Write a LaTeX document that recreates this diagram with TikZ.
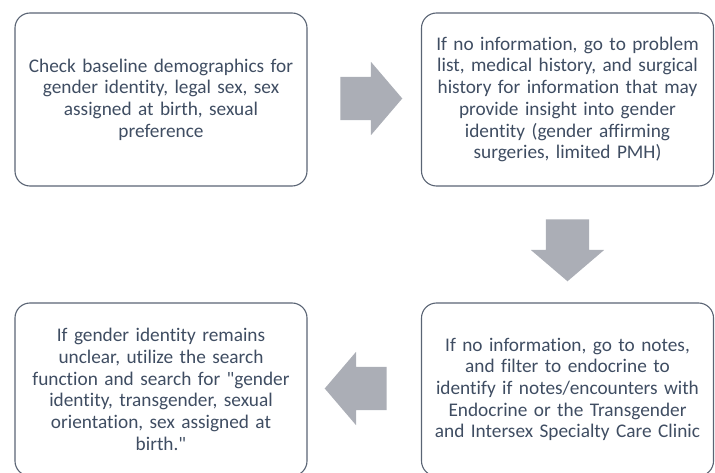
\documentclass[tikz,border=0pt]{standalone}
\usepackage{fontspec}
\setmainfont{Carlito}[Ligatures={NoCommon,TeXOff}]
\usetikzlibrary{shapes.arrows}

\definecolor{boxline}{HTML}{5A6474}
\definecolor{boxtext}{HTML}{3F4D62}
\definecolor{arrowgray}{HTML}{ABAEB6}

\tikzset{
  stepbox/.style={draw=boxline, line width=1.1pt, rounded corners=15pt,
    minimum width=292pt, minimum height=173pt, text width=288pt,
    align=center, text=boxtext, inner sep=0pt,
    font=\fontsize{19.3}{21.7}\selectfont},
  blockarrow/.style={single arrow, fill=arrowgray, draw=none,
    minimum height=62pt, minimum width=73pt, inner xsep=0pt,
    inner ysep=21.5pt, single arrow head extend=15pt,
    single arrow tip angle=99, single arrow head indent=0pt}
}

\begin{document}
\begin{tikzpicture}[x=1pt,y=-1pt]
\clip (0,0) rectangle (715,473);
\useasboundingbox (0,0) rectangle (715,473);

% the four steps
\node[stepbox] (demo) at (161,99.5) {Check baseline demographics for\\
  gender identity, legal sex, sex\\ assigned at birth, sexual\\ preference};
\node[stepbox] (hist) at (567.5,99.5) {If no information, go to problem\\
  list, medical history, and surgical\\ history for information that may\\
  provide insight into gender\\ identity (gender affirming\\
  surgeries, limited PMH)};
\node[stepbox] (notes) at (567.5,389.5) {If no information, go to notes,\\
  and filter to endocrine to\\ identify if notes/encounters with\\
  Endocrine or the Transgender\\ and Intersex Specialty Care Clinic};
\node[stepbox] (search) at (161,389.5) {If gender identity remains\\
  unclear, utilize the search\\ function and search for "gender\\
  identity, transgender, sexual\\ orientation, sex assigned at\\ birth."};

% arrows between the steps
\node[blockarrow] (ab) at (362,98.5) {};
\node[blockarrow, rotate=-90] (bc) at (567.5,241) {};
\node[blockarrow, rotate=180] (cd) at (365,388.5) {};
\end{tikzpicture}
\end{document}
